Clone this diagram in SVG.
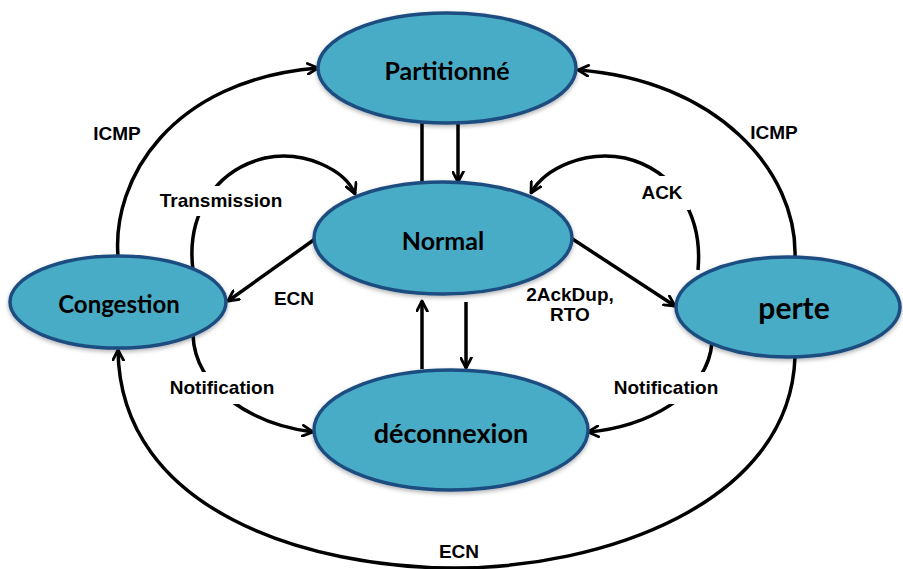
<svg xmlns="http://www.w3.org/2000/svg" width="903" height="569" viewBox="0 0 903 569">
  <defs>
    <marker id="arrow" viewBox="0 0 12 12" refX="10.5" refY="6" markerWidth="13" markerHeight="13" markerUnits="userSpaceOnUse" orient="auto">
      <path d="M1,1 L10.5,6 L1,11" fill="none" stroke="#000" stroke-width="2.6" stroke-linecap="round" stroke-linejoin="round"/>
    </marker>
    <filter id="shadow" x="-10%" y="-10%" width="120%" height="130%">
      <feDropShadow dx="0" dy="2" stdDeviation="2" flood-color="#000" flood-opacity="0.3"/>
    </filter>
  </defs>
  <style>
    .node ellipse { fill: #4aacc6; stroke: #1f4e80; stroke-width: 3.5; filter: url(#shadow); }
    .node text { font-family: Lato, "Open Sans", sans-serif; font-weight: bold; fill: #000; text-anchor: middle; dominant-baseline: central; }
    .edge { fill: none; stroke: #000; stroke-width: 3.5; }
    .arr { marker-end: url(#arrow); }
    .lbl { font-family: "Liberation Sans", Arial, sans-serif; font-weight: bold; font-size: 19px; fill: #000; text-anchor: middle; dominant-baseline: central; }
  </style>
  <rect width="903" height="569" fill="#fff"/>

  <g id="connectors">
    <!-- Partitionné / Normal -->
    <path class="edge" d="M422,123 V182"/>
    <path class="edge arr" d="M458,123 V182"/>
    <!-- Normal / déconnexion -->
    <path class="edge arr" d="M422,369 V301"/>
    <path class="edge arr" d="M466,302 V368"/>
    <!-- Normal to Congestion and perte -->
    <path class="edge arr" d="M315,239 L228,301"/>
    <path class="edge arr" d="M571,238 L675,306"/>
    <!-- Transmission loop -->
    <path class="edge arr" d="M193,270 C186,215 215,170 265,158 C305,150 345,170 355,194"/>
    <!-- ACK loop -->
    <path class="edge arr" d="M698,270 C703,215 675,170 625,158 C585,150 545,168 531,193"/>
    <!-- Notification loops -->
    <path class="edge arr" d="M193,335 C195,390 255,425 313,432"/>
    <path class="edge arr" d="M712,342 C708,395 645,428 588,432"/>
    <!-- ICMP arcs -->
    <path class="edge arr" d="M118,256 C112,180 170,80 318,68"/>
    <path class="edge arr" d="M795,258 C798,170 715,80 578,70"/>
    <!-- ECN arc along the bottom -->
    <path class="edge arr" d="M795,357 C790,505 600,568 455,568 C310,568 120,512 118,350"/>

    <!-- label backgrounds cut the loops -->
    <rect x="150" y="186" width="142" height="30" fill="#fff"/>
    <rect x="636" y="176" width="54" height="34" fill="#fff"/>
    <rect x="160" y="372" width="126" height="32" fill="#fff"/>
    <rect x="604" y="372" width="126" height="32" fill="#fff"/>

    <text class="lbl" x="117" y="133">ICMP</text>
    <text class="lbl" x="774" y="132">ICMP</text>
    <text class="lbl" x="221" y="200">Transmission</text>
    <text class="lbl" x="662" y="192">ACK</text>
    <text class="lbl" x="294" y="298">ECN</text>
    <text class="lbl" x="570" y="294">2AckDup,</text>
    <text class="lbl" x="570" y="314">RTO</text>
    <text class="lbl" x="222" y="387">Notification</text>
    <text class="lbl" x="666" y="387">Notification</text>
    <text class="lbl" x="459" y="551">ECN</text>
  </g>

  <g id="node-partitionne" class="node">
    <ellipse cx="447" cy="68" rx="129" ry="55"/>
    <text x="447" y="70" font-size="25">Partitionné</text>
  </g>
  <g id="node-normal" class="node">
    <ellipse cx="443" cy="238" rx="129" ry="56"/>
    <text x="443" y="240" font-size="25">Normal</text>
  </g>
  <g id="node-congestion" class="node">
    <ellipse cx="118" cy="302" rx="108" ry="46"/>
    <text x="119" y="303" font-size="24">Congestion</text>
  </g>
  <g id="node-perte" class="node">
    <ellipse cx="788" cy="307" rx="112" ry="50"/>
    <text x="794" y="307" font-size="30">perte</text>
  </g>
  <g id="node-deconnexion" class="node">
    <ellipse cx="451" cy="430" rx="137" ry="60"/>
    <text x="451" y="432" font-size="27">déconnexion</text>
  </g>
</svg>
